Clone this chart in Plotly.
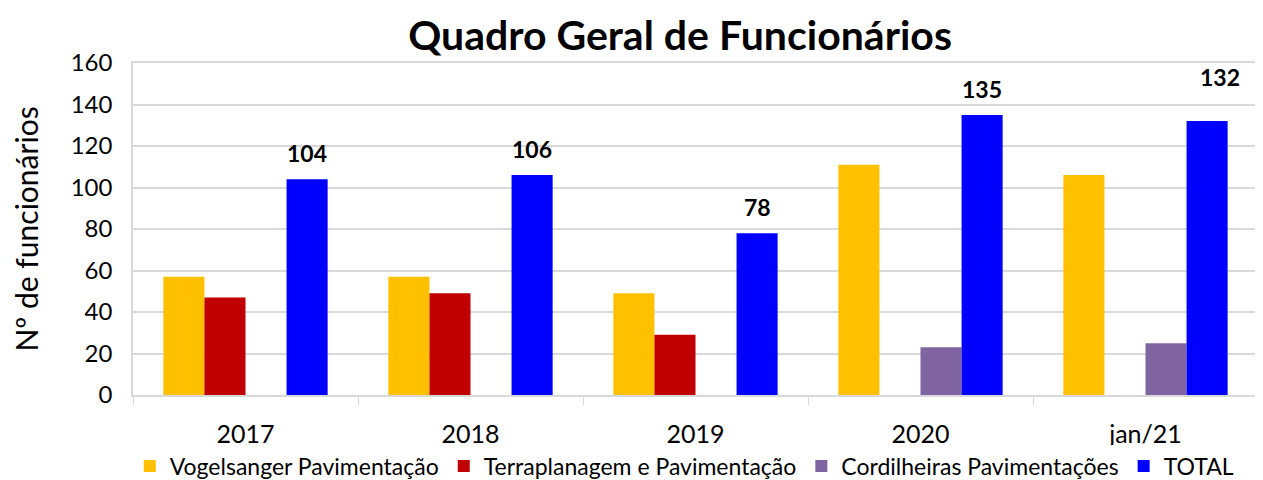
import plotly.graph_objects as go

categories = ["2017", "2018", "2019", "2020", "jan/21"]
vogelsanger = [57, 57, 49, 111, 106]
terraplanagem = [47, 49, 29, None, None]
cordilheiras = [None, None, None, 23, 25]
total = [104, 106, 78, 135, 132]

series_names = ["Vogelsanger Pavimentação", "Terraplanagem e Pavimentação",
                "Cordilheiras Pavimentações", "TOTAL"]
colors = ["#FFC000", "#C00000", "#8064A2", "#0000FF"]

FONT = "Lato"
BARGAP = 0.27

fig = go.Figure()
for name, vals, col in zip(series_names, [vogelsanger, terraplanagem, cordilheiras, total], colors):
    fig.add_trace(go.Bar(x=categories, y=vals, name=name, marker_color=col,
                         marker_line_width=0))

# TOTAL bar is the 4th of 4 slots in each group: offset from category centre
slot = (1 - BARGAP) / 4
offset = 1.5 * slot

for i, v in enumerate(total):
    xs, ys = 0, 26
    if i == len(categories) - 1:
        xs, ys = 13, 44
    fig.add_annotation(x=i + offset, y=v, text=f"<b>{v}</b>", showarrow=False,
                       xref="x", yref="y", xshift=xs, yshift=ys,
                       font=dict(family=FONT, size=23, color="#000000"))

# the page body has an 8px margin, so the figure is drawn 8px smaller
fig.update_layout(
    width=1255, height=472,
    paper_bgcolor="white", plot_bgcolor="white",
    margin=dict(l=125, r=5, t=55, b=85, autoexpand=False),
    barmode="group", bargap=BARGAP, bargroupgap=0,
    title=dict(text="<b>Quadro Geral de Funcionários</b>", x=0.5355, xanchor="center",
               y=0.941, yanchor="middle",
               font=dict(family=FONT, size=41, color="#000000")),
    font=dict(family=FONT, size=24, color="#000000"),
    showlegend=True,
    legend=dict(orientation="h", x=0.49, xanchor="center", y=-0.214, yanchor="middle",
                font=dict(family=FONT, size=23), itemwidth=30,
                tracegroupgap=0),
    xaxis=dict(type="category", showline=True, linecolor="#d9d9d9", linewidth=1.5,
               mirror=True, ticks="outside", tickson="boundaries", ticklen=8,
               tickcolor="#d9d9d9", showgrid=False, tickangle=0,
               ticklabelstandoff=16,
               range=[-0.5, len(categories) - 0.5],
               tickfont=dict(family=FONT, size=25)),
    yaxis=dict(range=[0, 160], dtick=20, showgrid=True, gridcolor="#d9d9d9",
               gridwidth=1.5, showline=True, linecolor="#d9d9d9", linewidth=1.5,
               mirror=True, ticks="", zeroline=False, ticklabelstandoff=14,
               tickfont=dict(family=FONT, size=24),
               title=dict(text="Nº de funcionários", standoff=23,
                          font=dict(family=FONT, size=30))),
)

fig.write_html("out.html")
